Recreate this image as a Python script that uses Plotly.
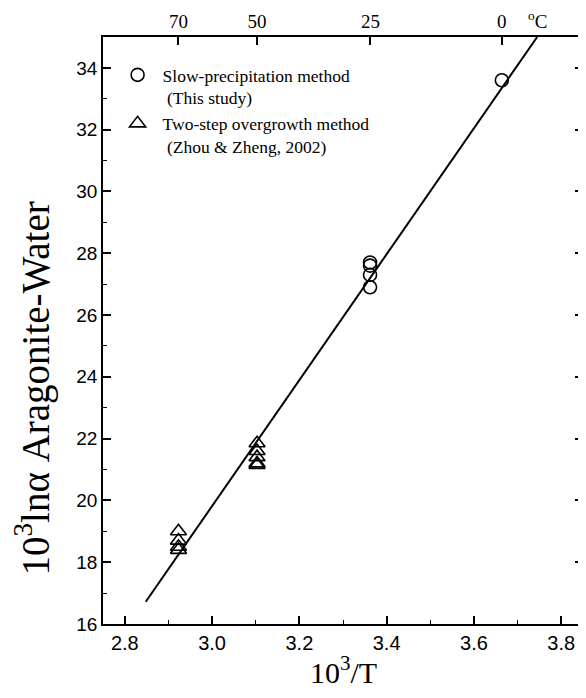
import plotly.graph_objects as go

# Data (x = 10^3/T, y = 10^3 ln alpha)
slow_x = [3.362, 3.362, 3.362, 3.362, 3.664]
slow_y = [27.7, 27.6, 27.3, 26.9, 33.6]

twostep_x = [3.103, 3.103, 3.103, 3.103, 3.103, 2.923, 2.923, 2.923, 2.923]
twostep_y = [21.85, 21.6, 21.4, 21.2, 21.15, 19.0, 18.7, 18.5, 18.4]

fit_x = [2.848, 3.745]
fit_y = [16.72, 35.0]

temp_tick_vals = [2.923, 3.103, 3.363, 3.664]
temp_tick_text = ["70", "50", "25", "0"]

x_ticks = [2.8, 3.0, 3.2, 3.4, 3.6, 3.8]
y_ticks = [16, 18, 20, 22, 24, 26, 28, 30, 32, 34]

serif = "Liberation Serif, Times New Roman, serif"
sans = "Liberation Sans, Arial, sans-serif"

fig = go.Figure()

fig.add_trace(go.Scatter(
    x=fit_x, y=fit_y, mode="lines",
    line=dict(color="black", width=2), showlegend=False, hoverinfo="skip"))

fig.add_trace(go.Scatter(
    x=slow_x, y=slow_y, mode="markers",
    name="Slow-precipitation method<br> (This study)",
    marker=dict(symbol="circle-open", size=13, color="black", line=dict(width=1.6))))

fig.add_trace(go.Scatter(
    x=twostep_x, y=twostep_y, mode="markers",
    name="Two-step overgrowth method<br> (Zhou & Zheng, 2002)",
    marker=dict(symbol="triangle-up-open", size=14, color="black", line=dict(width=1.6))))

# dummy trace for top axis
fig.add_trace(go.Scatter(x=[2.75], y=[16], xaxis="x2", mode="markers",
                         marker=dict(opacity=0), showlegend=False, hoverinfo="skip"))

fig.update_layout(
    width=578, height=682,
    paper_bgcolor="white", plot_bgcolor="white",
    margin=dict(l=95, r=3, t=29, b=66, autoexpand=False),
    xaxis=dict(
        range=[2.75, 3.85], tickvals=x_ticks, ticktext=["2.8", "3.0", "3.2", "3.4", "3.6", "3.8"],
        ticks="inside", ticklen=8, tickwidth=1.5, tickcolor="black",
        minor=dict(dtick=0.1, tick0=2.8, ticks="inside", ticklen=4, tickwidth=1.2, tickcolor="black"),
        showline=True, linecolor="black", linewidth=1.8, mirror=False,
        showgrid=False, zeroline=False, automargin=False,
        tickfont=dict(family=sans, size=20, color="black"),
    ),
    xaxis2=dict(
        range=[2.75, 3.85], overlaying="x", side="top", anchor="y",
        tickvals=temp_tick_vals, ticktext=temp_tick_text,
        ticks="inside", ticklen=8, tickwidth=1.5, tickcolor="black",
        showline=True, linecolor="black", linewidth=1.8,
        showgrid=False, zeroline=False, automargin=False,
        tickfont=dict(family=serif, size=19, color="black"),
    ),
    yaxis=dict(
        range=[16, 35], tickvals=y_ticks,
        ticks="inside", ticklen=8, tickwidth=1.5, tickcolor="black",
        minor=dict(dtick=1, tick0=16, ticks="inside", ticklen=4, tickwidth=1.2, tickcolor="black"),
        showline=True, linecolor="black", linewidth=1.8, mirror="ticks",
        showgrid=False, zeroline=False, automargin=False,
        tickfont=dict(family=sans, size=19, color="black"),
    ),
    legend=dict(
        x=0.020, y=0.966, xanchor="left", yanchor="top",
        bgcolor="rgba(0,0,0,0)", valign="top",
        font=dict(family=serif, size=17.5, color="black"),
        itemwidth=40, tracegroupgap=2,
    ),
    annotations=[
        dict(x=3.72, y=1.0, xref="x", yref="paper", yanchor="bottom", xanchor="left",
             text="<sup>o</sup>C", showarrow=False, yshift=3,
             font=dict(family=serif, size=19, color="black")),
        dict(x=0.5, y=-0.078, xref="paper", yref="paper", xanchor="center", yanchor="middle",
             text="10<sup>3</sup>/T", showarrow=False,
             font=dict(family=serif, size=30, color="black")),
        dict(x=-0.146, y=0.401, xref="paper", yref="paper", xanchor="center", yanchor="middle",
             text="10<sup>3</sup>lnα Aragonite-Water", showarrow=False, textangle=-90,
             font=dict(family=serif, size=39, color="black")),
    ],
)

fig.write_html("out.html")
